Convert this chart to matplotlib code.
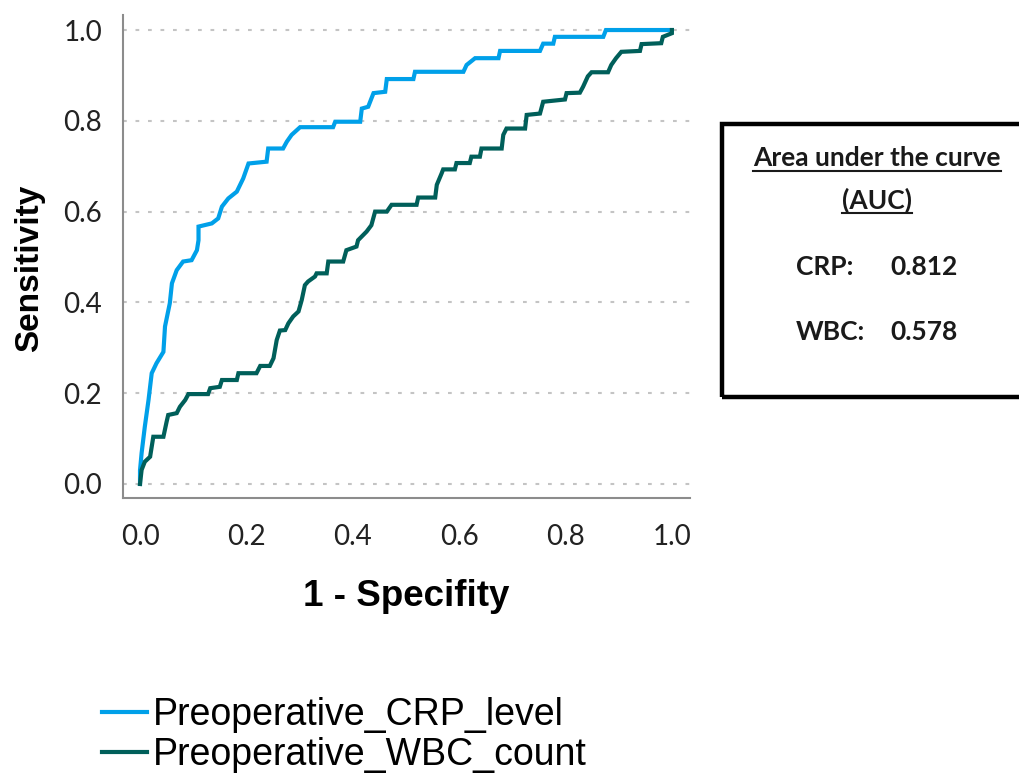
import matplotlib
matplotlib.use("Agg")
import matplotlib.pyplot as plt
from matplotlib.patches import Rectangle
from matplotlib.lines import Line2D

# ROC curve vertices
crp_fpr = [0.0, 0.0, 0.003, 0.009, 0.016, 0.022, 0.031, 0.044, 0.047, 0.056, 0.06, 0.069,
           0.081, 0.097, 0.107, 0.11, 0.11, 0.135, 0.147, 0.154, 0.166, 0.182, 0.194, 0.204,
           0.238, 0.241, 0.269, 0.276, 0.285, 0.301, 0.363, 0.367, 0.414, 0.417, 0.429, 0.439,
           0.461, 0.464, 0.514, 0.517, 0.608, 0.614, 0.63, 0.674, 0.677, 0.752, 0.758, 0.777,
           0.78, 0.871, 0.876, 1.0]
crp_tpr = [0.0, 0.03, 0.068, 0.126, 0.185, 0.244, 0.266, 0.291, 0.347, 0.398, 0.442, 0.471,
           0.49, 0.493, 0.515, 0.537, 0.567, 0.574, 0.585, 0.611, 0.629, 0.644, 0.673, 0.706,
           0.71, 0.739, 0.739, 0.754, 0.769, 0.786, 0.786, 0.798, 0.798, 0.827, 0.831, 0.861,
           0.864, 0.892, 0.892, 0.908, 0.908, 0.923, 0.938, 0.938, 0.954, 0.954, 0.97, 0.97,
           0.985, 0.985, 1.0, 1.0]

wbc_fpr = [0.0, 0.003, 0.009, 0.019, 0.025, 0.044, 0.05, 0.053, 0.069, 0.075, 0.085, 0.091,
           0.128, 0.132, 0.15, 0.154, 0.182, 0.185, 0.219, 0.226, 0.244, 0.251, 0.257, 0.263,
           0.273, 0.279, 0.288, 0.298, 0.304, 0.31, 0.316, 0.329, 0.332, 0.351, 0.354, 0.382,
           0.388, 0.407, 0.41, 0.426, 0.435, 0.442, 0.464, 0.473, 0.52, 0.523, 0.555, 0.558,
           0.567, 0.57, 0.592, 0.595, 0.62, 0.623, 0.639, 0.642, 0.68, 0.683, 0.689, 0.724,
           0.727, 0.752, 0.758, 0.799, 0.802, 0.827, 0.833, 0.842, 0.849, 0.88, 0.886, 0.895,
           0.905, 0.94, 0.943, 0.98, 0.983, 1.0, 1.0]
wbc_tpr = [0.0, 0.031, 0.049, 0.06, 0.104, 0.104, 0.137, 0.152, 0.156, 0.17, 0.185, 0.198,
           0.198, 0.211, 0.214, 0.229, 0.229, 0.244, 0.244, 0.26, 0.26, 0.277, 0.317, 0.338,
           0.339, 0.354, 0.369, 0.38, 0.405, 0.438, 0.446, 0.457, 0.464, 0.464, 0.49, 0.49,
           0.515, 0.523, 0.537, 0.556, 0.57, 0.6, 0.6, 0.615, 0.615, 0.631, 0.631, 0.659,
           0.684, 0.693, 0.693, 0.707, 0.707, 0.721, 0.721, 0.739, 0.739, 0.769, 0.783, 0.783,
           0.813, 0.816, 0.842, 0.847, 0.861, 0.862, 0.875, 0.898, 0.907, 0.907, 0.923, 0.938,
           0.952, 0.954, 0.969, 0.971, 0.985, 0.993, 1.0]

series_names = ["Preoperative_CRP_level", "Preoperative_WBC_count"]
series_colors = ["#00a0e9", "#005f5a"]
ticks = [0.0, 0.2, 0.4, 0.6, 0.8, 1.0]
auc_labels = ["CRP:", "WBC:"]
auc_values = ["0.812", "0.578"]

fig = plt.figure(figsize=(10.19, 7.76), dpi=100)
ax = fig.add_axes([0.1207, 0.3582, 0.5564, 0.6224])

l1, = ax.plot(crp_fpr, crp_tpr, color=series_colors[0], lw=3, label=series_names[0],
              solid_joinstyle="miter", zorder=3)
l2, = ax.plot(wbc_fpr, wbc_tpr, color=series_colors[1], lw=3, label=series_names[1],
              solid_joinstyle="miter", zorder=3)

ax.set_xlim(-0.032, 1.034)
ax.set_ylim(-0.031, 1.033)
ax.set_xticks(ticks)
ax.set_yticks(ticks)
ax.set_xticklabels([f"{t:.1f}" for t in ticks], fontfamily="Lato", fontsize=20, color="#222222")
ax.set_yticklabels([f"{t:.1f}" for t in ticks], fontfamily="Lato", fontsize=20, color="#222222")
ax.tick_params(axis="x", length=0, pad=19)
ax.tick_params(axis="y", length=0, pad=15)

ax.grid(axis="y", color="#c4c4c4", lw=1.5, linestyle=(0, (1.8, 4.2)))
ax.set_axisbelow(True)
for s in ["top", "right"]:
    ax.spines[s].set_visible(False)
for s in ["left", "bottom"]:
    ax.spines[s].set_color("#8c8c8c")
    ax.spines[s].set_linewidth(1.5)

ax.set_xlabel("1 - Specifity", fontfamily="Liberation Sans", fontweight="bold", fontsize=26.5)
ax.set_ylabel("Sensitivity", fontfamily="Liberation Sans", fontweight="bold", fontsize=24)
ax.xaxis.set_label_coords(0.5, -0.168)
ax.yaxis.set_label_coords(-0.138, 0.475)

fig.legend(handles=[l1, l2], loc="upper left", bbox_to_anchor=(102 / 1019, 1 - 697 / 776),
           frameon=False, prop={"family": "Liberation Sans", "size": 27},
           handlelength=1.2, handletextpad=0.15, labelspacing=0.1,
           borderpad=0, borderaxespad=0)

# AUC box
box = Rectangle((722 / 1019, 1 - 397 / 776), 0.4, (397 - 124) / 776, transform=fig.transFigure,
                fill=False, ec="black", lw=3.2, clip_on=False)
fig.add_artist(box)

box_font = {"family": "Lato", "weight": "bold", "color": "#1a1a1a"}
t1 = fig.text(877 / 1019, 1 - 158 / 776, "Area under the curve", ha="center", va="center",
              fontsize=19, **box_font)
t2 = fig.text(877 / 1019, 1 - 200 / 776, "(AUC)", ha="center", va="center", fontsize=19, **box_font)
for lab, val, y in zip(auc_labels, auc_values, [267, 332]):
    fig.text(796 / 1019, 1 - y / 776, lab, ha="left", va="center", fontsize=19, **box_font)
    fig.text(890 / 1019, 1 - y / 776, val, ha="left", va="center", fontsize=19, **box_font)

renderer = fig.canvas.get_renderer()
for t in [t1, t2]:
    bb = t.get_window_extent(renderer).transformed(fig.transFigure.inverted())
    fig.add_artist(Line2D([bb.x0, bb.x1], [bb.y0 - 0.001, bb.y0 - 0.001], color="#1a1a1a",
                          lw=1.5, transform=fig.transFigure))

fig.savefig("out.png", dpi=100)
